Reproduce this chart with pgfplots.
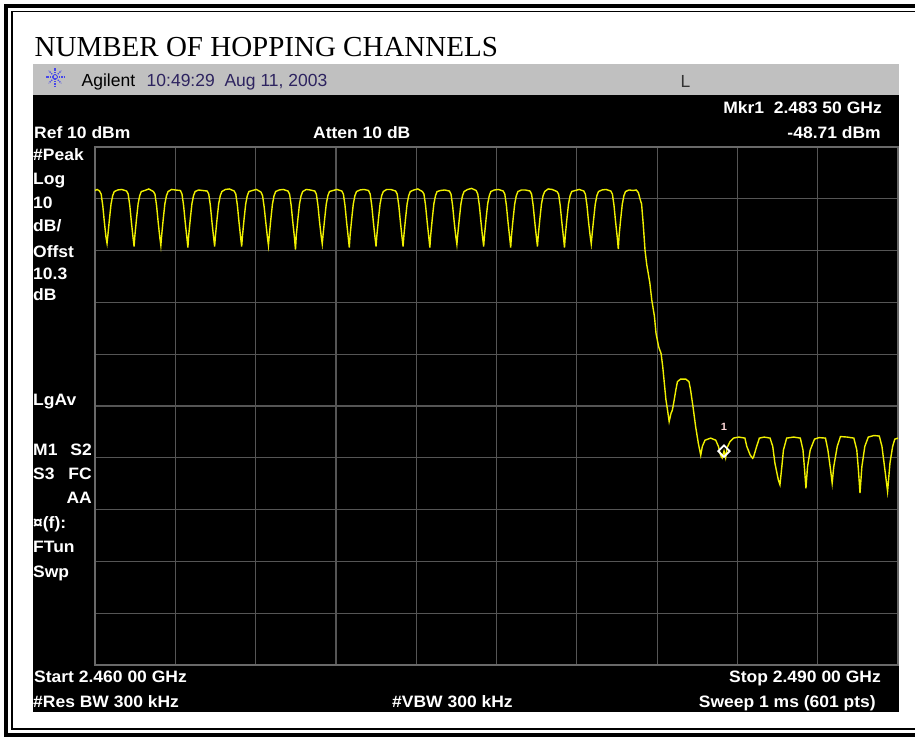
\documentclass[border=0pt]{standalone}
\usepackage{fontspec}
\usepackage{pgfplots}
\pgfplotsset{compat=1.18}
\setmainfont{Liberation Serif}
\newfontfamily\instr{Liberation Sans}[FakeStretch=1.06]
\newfontfamily\barfont{Liberation Sans}
\definecolor{tracec}{RGB}{240,240,0}
\definecolor{gridc}{RGB}{85,85,85}
\definecolor{boxc}{RGB}{105,105,105}
\definecolor{silverc}{RGB}{192,192,192}
\definecolor{navyc}{RGB}{45,35,95}
\definecolor{iconblue}{RGB}{70,70,235}
\newcommand{\labl}[3]{\node[anchor=base west,inner sep=0pt,text=white,font=\instr\bfseries\fontsize{16.5}{18}\selectfont] at (#1,#2) {#3};}
\newcommand{\labr}[3]{\node[anchor=base east,inner sep=0pt,text=white,font=\instr\bfseries\fontsize{16.5}{18}\selectfont] at (#1,#2) {#3};}
\begin{document}
\begin{tikzpicture}[x=1pt,y=1pt]
\useasboundingbox (0,0) rectangle (915,738);
\fill[white] (0,0) rectangle (915,738);
% borders
\fill[black] (4,730) rectangle (915,734);
\fill[black] (4,0.5) rectangle (8,734);
\fill[black] (4,0.5) rectangle (915,4.5);
\fill[black] (11,725.5) rectangle (915,727);
\fill[black] (11,8) rectangle (12.5,727);
\fill[black] (11,8) rectangle (915,9.5);
% title
\node[anchor=base west,inner sep=0pt,font=\fontsize{29}{31}\selectfont] at (34.5,681) {NUMBER OF HOPPING CHANNELS};
% instrument screen
\fill[silverc] (33,643) rectangle (899,674);
\fill[black] (33,26) rectangle (899,643);
\foreach \a in {0,45,...,315}{\draw[iconblue,line width=1.3pt,dash pattern=on 1.3pt off 1.1pt] (55,661) ++(\a:1.5) -- ++(\a:7.5);}
\node[anchor=base west,inner sep=0pt,text=black,font=\barfont\fontsize{17.5}{19}\selectfont] at (81.5,651) {Agilent};
\node[anchor=base west,inner sep=0pt,text=navyc,font=\barfont\fontsize{17.5}{19}\selectfont] at (146.5,651) {10:49:29\ \ Aug 11, 2003};
\node[anchor=base west,inner sep=0pt,text=black!80,font=\barfont\fontsize{17.5}{19}\selectfont] at (680.5,650) {L};
\labr{882}{624.7}{Mkr1\ \ 2.483 50 GHz}
\labr{881}{599.7}{-48.71 dBm}
\labl{34}{599}{Ref 10 dBm}
\labl{313}{599}{Atten 10 dB}
\labl{33}{577.3}{\#Peak}
\labl{33}{553}{Log}
\labl{33}{529}{10}
\labl{33}{506.3}{dB/}
\labl{33}{480}{Offst}
\labl{33}{458}{10.3}
\labl{33}{437.3}{dB}
\labl{33}{332}{LgAv}
\labl{33}{282}{M1}
\labr{92}{282}{S2}
\labl{33}{258}{S3}
\labr{92}{258}{FC}
\labr{92}{234}{AA}
\labl{33}{209}{¤(f):}
\labl{33}{185.5}{FTun}
\labl{33}{160}{Swp}
\labl{34}{55}{Start 2.460 00 GHz}
\labr{881}{55}{Stop 2.490 00 GHz}
\labl{33}{30}{\#Res BW 300 kHz}
\labl{392}{30}{\#VBW 300 kHz}
\labr{876}{30}{Sweep 1 ms (601 pts)}
\begin{axis}[at={(95pt,73pt)},anchor=south west,scale only axis,
  width=803pt,height=518pt,xmin=2460,xmax=2490,ymin=-90,ymax=10,
  xtick={2463,2466,...,2487},ytick={-80,-70,...,0},
  xticklabels={},yticklabels={},major tick length=0pt,
  grid=major,major grid style={gridc,line width=1.2pt},
  axis line style={boxc,line width=2pt},clip=true]
\addplot[tracec,line width=1.4pt,mark=none] coordinates {
(2460.00,1.6)(2460.08,1.8)
(2460.17,1.5)(2460.23,0.9)(2460.29,-1.3)(2460.35,-4.5)(2460.41,-7.4)(2460.45,-8.6)(2460.48,-7.1)(2460.54,-3.9)(2460.60,-1.0)(2460.66,0.6)(2460.72,1.4)(2460.85,1.7)(2461.00,1.8)
(2461.18,1.5)(2461.24,0.9)(2461.30,-1.3)(2461.36,-4.5)(2461.42,-7.4)(2461.46,-9.2)(2461.49,-7.1)(2461.55,-3.9)(2461.61,-1.0)(2461.67,0.6)(2461.73,1.4)(2461.86,1.6)(2462.01,1.9)
(2462.18,1.4)(2462.24,0.9)(2462.30,-1.3)(2462.36,-4.5)(2462.42,-7.4)(2462.46,-9.0)(2462.49,-7.1)(2462.55,-3.9)(2462.61,-1.0)(2462.67,0.6)(2462.73,1.4)(2462.86,1.8)(2463.01,1.7)
(2463.19,1.6)(2463.25,0.9)(2463.31,-1.3)(2463.37,-4.5)(2463.43,-7.4)(2463.47,-9.4)(2463.50,-7.1)(2463.56,-3.9)(2463.62,-1.0)(2463.68,0.6)(2463.74,1.4)(2463.87,1.7)(2464.02,1.6)
(2464.19,1.5)(2464.25,0.9)(2464.31,-1.3)(2464.37,-4.5)(2464.43,-7.4)(2464.47,-9.2)(2464.50,-7.1)(2464.56,-3.9)(2464.62,-1.0)(2464.68,0.6)(2464.74,1.4)(2464.87,1.8)(2465.02,1.9)
(2465.20,1.5)(2465.26,0.9)(2465.32,-1.3)(2465.38,-4.5)(2465.44,-7.4)(2465.48,-9.2)(2465.51,-7.1)(2465.57,-3.9)(2465.63,-1.0)(2465.69,0.6)(2465.75,1.4)(2465.88,1.6)(2466.03,1.8)
(2466.20,1.3)(2466.26,0.6)(2466.32,-1.6)(2466.38,-4.5)(2466.44,-7.4)(2466.48,-9.0)(2466.51,-7.1)(2466.57,-3.9)(2466.63,-1.0)(2466.69,0.6)(2466.75,1.4)(2466.88,1.7)(2467.03,1.8)
(2467.21,1.5)(2467.27,0.9)(2467.33,-1.3)(2467.39,-4.5)(2467.45,-7.4)(2467.49,-9.8)(2467.52,-7.1)(2467.58,-3.9)(2467.64,-1.0)(2467.70,0.6)(2467.76,1.4)(2467.89,1.8)(2468.04,1.7)
(2468.21,1.5)(2468.27,0.9)(2468.33,-1.3)(2468.39,-4.5)(2468.45,-7.2)(2468.49,-8.7)(2468.52,-7.0)(2468.58,-3.9)(2468.64,-1.0)(2468.70,0.6)(2468.76,1.4)(2468.89,1.6)(2469.04,1.8)
(2469.22,1.5)(2469.28,0.9)(2469.34,-1.3)(2469.40,-4.5)(2469.46,-7.4)(2469.50,-9.4)(2469.53,-7.1)(2469.59,-3.9)(2469.65,-1.0)(2469.71,0.6)(2469.77,1.4)(2469.90,1.7)(2470.05,1.8)
(2470.22,1.6)(2470.28,0.9)(2470.34,-1.3)(2470.40,-4.5)(2470.46,-7.4)(2470.50,-9.2)(2470.53,-7.1)(2470.59,-3.9)(2470.65,-1.0)(2470.71,0.6)(2470.77,1.4)(2470.90,1.8)(2471.05,1.8)
(2471.23,1.5)(2471.29,0.9)(2471.35,-1.3)(2471.41,-4.5)(2471.47,-7.4)(2471.51,-9.2)(2471.54,-7.1)(2471.60,-3.9)(2471.66,-1.0)(2471.72,0.6)(2471.78,1.4)(2471.91,1.7)(2472.06,1.9)
(2472.23,1.4)(2472.29,0.9)(2472.35,-1.3)(2472.41,-4.5)(2472.47,-7.4)(2472.51,-9.4)(2472.54,-7.1)(2472.60,-3.9)(2472.66,-1.0)(2472.72,0.6)(2472.78,1.4)(2472.91,1.6)(2473.06,1.7)
(2473.24,1.5)(2473.30,0.9)(2473.36,-1.3)(2473.42,-4.5)(2473.48,-7.3)(2473.52,-8.8)(2473.55,-7.0)(2473.61,-3.9)(2473.67,-1.0)(2473.73,0.6)(2473.79,1.4)(2473.92,1.8)(2474.07,2.0)
(2474.24,1.6)(2474.30,0.9)(2474.36,-1.3)(2474.42,-4.5)(2474.48,-7.4)(2474.52,-9.2)(2474.55,-7.1)(2474.61,-3.9)(2474.67,-1.0)(2474.73,0.6)(2474.79,1.4)(2474.92,1.7)(2475.07,1.8)
(2475.25,1.5)(2475.31,0.9)(2475.37,-1.3)(2475.43,-4.5)(2475.49,-7.4)(2475.53,-9.4)(2475.56,-7.1)(2475.62,-3.9)(2475.68,-1.0)(2475.74,0.6)(2475.80,1.4)(2475.93,1.7)(2476.08,1.7)
(2476.25,1.5)(2476.31,0.9)(2476.37,-1.3)(2476.43,-4.5)(2476.49,-7.4)(2476.53,-9.2)(2476.56,-7.1)(2476.62,-3.9)(2476.68,-1.0)(2476.74,0.6)(2476.80,1.4)(2476.93,1.9)(2477.08,1.8)
(2477.26,1.4)(2477.32,0.9)(2477.38,-1.3)(2477.44,-4.5)(2477.50,-7.4)(2477.54,-9.4)(2477.57,-7.1)(2477.63,-3.9)(2477.69,-1.0)(2477.75,0.6)(2477.81,1.4)(2477.94,1.6)(2478.09,1.8)
(2478.26,1.5)(2478.32,0.9)(2478.38,-1.3)(2478.44,-4.5)(2478.50,-7.2)(2478.54,-8.7)(2478.57,-7.0)(2478.63,-3.9)(2478.69,-1.0)(2478.75,0.6)(2478.81,1.4)(2478.94,1.7)(2479.09,1.8)
(2479.27,1.5)(2479.33,0.9)(2479.39,-1.3)(2479.45,-4.5)(2479.51,-7.4)(2479.55,-9.7)(2479.58,-7.1)(2479.64,-3.9)(2479.70,-1.0)(2479.76,0.6)(2479.82,1.4)(2479.95,1.7)(2480.10,1.6)(2480.22,1.7)
(2480.30,1.2)(2480.36,0.0)(2480.42,-1.0)(2480.48,-4.8)(2480.55,-10.0)(2480.61,-12.6)(2480.73,-16.3)(2480.80,-19.5)(2480.90,-22.7)(2480.96,-26.0)(2481.06,-28.6)(2481.15,-29.9)(2481.21,-32.4)(2481.27,-35.6)(2481.33,-38.8)(2481.39,-40.8)(2481.45,-43.0)
(2481.52,-41.4)(2481.57,-40.8)(2481.64,-38.8)(2481.70,-36.9)(2481.76,-35.3)(2481.88,-34.8)(2482.07,-34.8)(2482.19,-35.3)(2482.25,-36.9)(2482.34,-40.1)(2482.44,-44.0)(2482.54,-47.2)(2482.63,-49.5)
(2482.69,-47.8)(2482.79,-46.6)(2483.00,-46.2)(2483.19,-46.6)(2483.29,-47.8)(2483.37,-49.5)(2483.43,-50.0)(2483.50,-48.71)(2483.56,-50.0)(2483.62,-48.0)(2483.72,-46.9)(2483.85,-46.2)
(2484.05,-46.0)(2484.28,-46.2)(2484.35,-47.8)(2484.48,-49.5)(2484.57,-50.1)(2484.60,-49.9)(2484.72,-47.8)(2484.82,-46.2)
(2485.00,-46.0)(2485.22,-46.2)(2485.32,-47.8)(2485.40,-51.0)(2485.53,-54.3)(2485.59,-55.2)(2485.66,-51.7)(2485.72,-48.5)(2485.84,-46.2)
(2486.10,-46.0)(2486.35,-46.2)(2486.45,-48.5)(2486.51,-52.3)(2486.56,-55.9)(2486.62,-51.7)(2486.72,-48.5)(2486.88,-46.4)
(2487.05,-46.1)(2487.29,-46.2)(2487.38,-48.5)(2487.48,-52.3)(2487.54,-54.9)(2487.60,-51.7)(2487.73,-47.8)(2487.85,-45.9)
(2488.10,-46.0)(2488.35,-46.2)(2488.46,-48.5)(2488.52,-52.3)(2488.58,-56.8)(2488.65,-51.7)(2488.76,-47.8)(2488.89,-46.0)
(2489.10,-45.7)(2489.30,-45.8)(2489.40,-47.8)(2489.51,-52.3)(2489.61,-56.5)(2489.70,-51.0)(2489.80,-47.8)(2489.88,-46.4)(2490.00,-46.2)
};
\addplot[white,line width=1.8pt,only marks,mark=square,mark size=4.1pt,mark options={rotate=45,solid,fill=none}] coordinates {(2483.5,-48.71)};
\node[font=\instr\bfseries\fontsize{10.5}{11}\selectfont,text=white!85!red] at (axis cs:2483.5,-44.0) {1};
\end{axis}
\end{tikzpicture}
\end{document}
